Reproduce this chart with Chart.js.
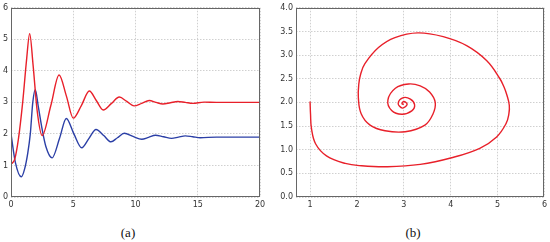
<!DOCTYPE html>
<html>
<head>
  <meta charset="UTF-8">
  <title>Series temporales y retrato de fase</title>
  <script src="https://cdn.jsdelivr.net/npm/chart.js"></script>
  <style>
    body { margin: 0; background: #fff; }
    #wrap { position: relative; width: 550px; height: 242px; }
    canvas { position: absolute; top: 0; }
    #chartA { left: 0; }
    #chartB { left: 275px; }
    .cap { position: absolute; top: 225px; width: 40px; text-align: center;
           font-family: "Liberation Serif", "DejaVu Serif", serif; font-size: 13px; color: #111; }
  </style>
</head>
<body>
  <div id="wrap">
    <canvas id="chartA" width="275" height="215"></canvas>
    <canvas id="chartB" width="275" height="215"></canvas>
    <div class="cap" style="left:108px">(a)</div>
    <div class="cap" style="left:393px">(b)</div>
  </div>

  <script>
    // (a) serie temporal
    const tRed = [0, 0.3, 0.6, 0.95, 1.25, 1.5, 1.77, 2.1, 2.5, 3.2, 3.86, 4.45, 5.0, 5.65, 6.29, 6.85, 7.41,
                  8.05, 8.7, 9.3, 9.88, 10.5, 11.1, 11.65, 12.2, 12.8, 13.4, 14.0, 14.6, 15.5, 16.5, 18, 20];
    const red  = [1.04, 1.2, 1.85, 3.05, 4.35, 5.18, 4.2, 2.74, 1.95, 2.9, 3.87, 3.2, 2.5, 2.9, 3.36, 3.06, 2.76,
                  2.96, 3.17, 3.03, 2.89, 2.97, 3.06, 3.0, 2.95, 2.99, 3.03, 3.0, 2.97, 3.01, 3.0, 3.0, 3.0];
    const tBlue = [0, 0.35, 0.83, 1.1, 1.35, 1.55, 1.75, 1.95, 2.2, 2.5, 2.8, 3.3, 3.9, 4.44, 5.05, 5.68, 6.25,
                   6.83, 7.45, 8.03, 8.55, 9.1, 9.8, 10.5, 11.05, 11.6, 12.25, 12.9, 13.45, 14.0, 14.6, 15.2, 16.5, 18, 20];
    const blue  = [2.0, 1.1, 0.64, 0.9, 1.4, 2.0, 3.0, 3.4, 2.85, 2.15, 1.6, 1.24, 1.86, 2.49, 2.0, 1.56, 1.85,
                   2.14, 1.95, 1.75, 1.88, 2.02, 1.92, 1.83, 1.89, 1.96, 1.91, 1.86, 1.9, 1.94, 1.91, 1.88, 1.9, 1.9, 1.9];
    const xTicksA = [0, 5, 10, 15, 20];
    const yTicksA = [0, 1, 2, 3, 4, 5, 6];

    // (b) retrato de fase
    const spiralX = [1.00, 1.01, 1.03, 1.12, 1.35, 1.75, 2.10, 2.65, 3.35, 4.02, 4.62, 4.98, 5.18, 5.24, 5.25,
                     5.20, 5.14, 5.05, 4.77, 4.34, 3.84, 3.30, 2.81, 2.46, 2.17, 2.08, 2.04, 2.03, 2.09, 2.28,
                     2.60, 3.03, 3.45, 3.62, 3.67, 3.55, 3.35, 3.10, 2.82, 2.66, 2.74, 2.96, 3.17, 3.23, 3.14,
                     2.99, 2.88, 2.97, 3.07, 3.00, 2.96, 3.00];
    const spiralY = [2.02, 1.75, 1.45, 1.12, 0.87, 0.71, 0.66, 0.64, 0.69, 0.83, 1.03, 1.27, 1.55, 1.75, 1.94,
                     2.15, 2.32, 2.50, 2.88, 3.20, 3.39, 3.47, 3.37, 3.16, 2.82, 2.60, 2.39, 2.10, 1.76, 1.52,
                     1.40, 1.38, 1.52, 1.75, 2.00, 2.22, 2.35, 2.39, 2.30, 2.05, 1.83, 1.75, 1.82, 1.95, 2.07,
                     2.10, 1.98, 1.88, 1.96, 2.02, 1.97, 1.96];
    const xTicksB = [1, 2, 3, 4, 5, 6];
    const yTicksB = [0, 0.5, 1.0, 1.5, 2.0, 2.5, 3.0, 3.5, 4.0];

    const RED = '#e8202a';
    const BLUE = '#2b3fa6';
    const tickFont = { family: 'DejaVu Sans', size: 8 };

    const frame = {
      id: 'frame',
      afterDraw(chart) {
        const { ctx, chartArea: a } = chart;
        ctx.save();
        ctx.strokeStyle = '#666';
        ctx.lineWidth = 1;
        ctx.strokeRect(Math.round(a.left) + 0.5, Math.round(a.top) + 0.5,
                       Math.round(a.width) - 1, Math.round(a.height) - 1);
        ctx.restore();
      }
    };

    function axis(min, max, ticks, fmt, fit) {
      return {
        type: 'linear', min: min, max: max,
        afterBuildTicks: s => { s.ticks = ticks.map(v => ({ value: v })); },
        afterFit: fit,
        ticks: { font: tickFont, color: '#333', padding: 3, callback: fmt },
        grid: { drawTicks: false, color: '#c4c4c4', lineWidth: 0.8 },
        border: { display: false, dash: [1.5, 1.5] }
      };
    }

    const pts = (xs, ys) => xs.map((x, i) => ({ x: x, y: ys[i] }));

    new Chart(document.getElementById('chartA'), {
      type: 'line',
      data: {
        datasets: [
          { data: pts(tRed, red), borderColor: RED, borderWidth: 1.4, pointRadius: 0, cubicInterpolationMode: 'monotone' },
          { data: pts(tBlue, blue), borderColor: BLUE, borderWidth: 1.4, pointRadius: 0, cubicInterpolationMode: 'monotone' }
        ]
      },
      options: {
        responsive: false, animation: false,
        layout: { padding: { top: 6, right: 15, bottom: 0, left: 0 } },
        plugins: { legend: { display: false }, tooltip: { enabled: false } },
        scales: {
          x: axis(0, 20, xTicksA, v => String(v), s => { s.height = 18; }),
          y: axis(0, 6, yTicksA, v => String(v), s => { s.width = 11; })
        }
      },
      plugins: [frame]
    });

    new Chart(document.getElementById('chartB'), {
      type: 'scatter',
      data: {
        datasets: [
          { data: pts(spiralX, spiralY), showLine: true, borderColor: RED, borderWidth: 1.4, pointRadius: 0, tension: 0.4 }
        ]
      },
      options: {
        responsive: false, animation: false,
        layout: { padding: { top: 6, right: 5, bottom: 0, left: 0 } },
        plugins: { legend: { display: false }, tooltip: { enabled: false } },
        scales: {
          x: axis(0.7, 6, xTicksB, v => String(v), s => { s.height = 18; }),
          y: axis(0, 4, yTicksB, v => v.toFixed(1), s => { s.width = 21; })
        }
      },
      plugins: [frame]
    });
  </script>
</body>
</html>
